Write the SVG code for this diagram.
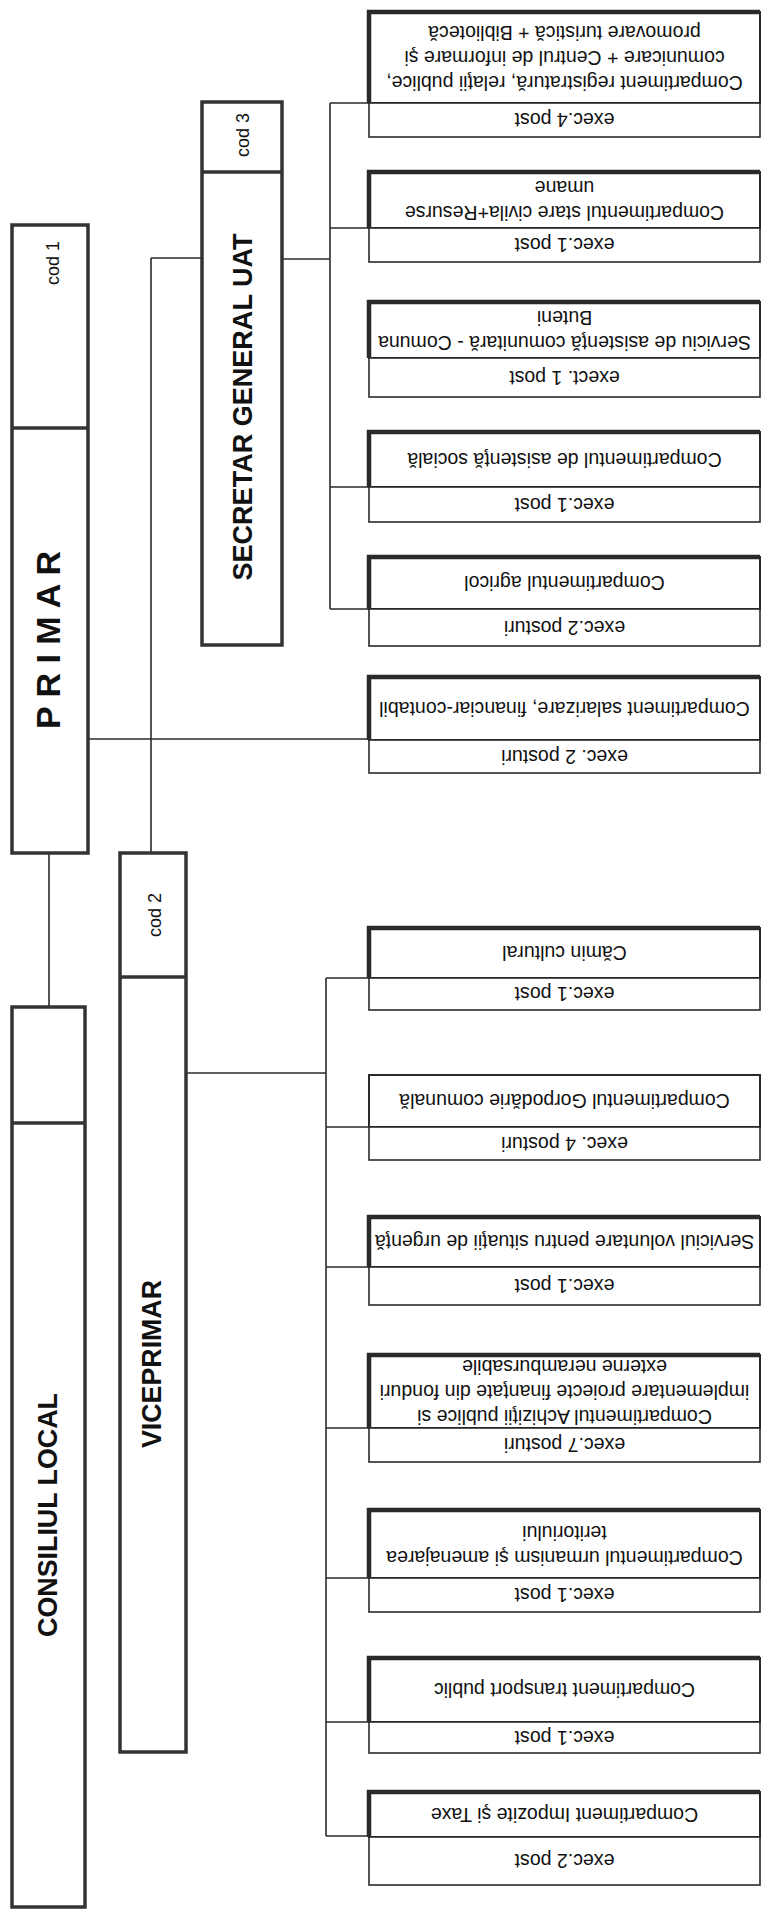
<svg xmlns="http://www.w3.org/2000/svg" width="762" height="1910" viewBox="0 0 762 1910">
<style>
.bg{fill:#ffffff}
.conn line{stroke:#2a2a2a;stroke-width:1.6;fill:none}
.cell{fill:#ffffff;stroke:#2a2a2a;stroke-width:2}
.cellx{fill:#ffffff;stroke:#2a2a2a;stroke-width:1.6}
.edge{fill:none;stroke:#2a2a2a;stroke-width:4.5}
.big{fill:#ffffff;stroke:#333333;stroke-width:3.5}
.div{stroke:#333333;stroke-width:3.5}
.t{font-family:"Liberation Sans",Arial,sans-serif;font-size:19.5px;fill:#111111;text-anchor:middle}
.cod{font-family:"Liberation Sans",Arial,sans-serif;font-size:18px;fill:#111111;text-anchor:middle}
.title{font-family:"Liberation Sans",Arial,sans-serif;font-weight:bold;font-size:27px;fill:#111111;text-anchor:middle}
.primar{font-family:"Liberation Sans",Arial,sans-serif;font-weight:bold;font-size:34px;fill:#111111;text-anchor:middle}
</style>
<rect class="bg" x="0" y="0" width="762" height="1910"/>

<g id="connectors" class="conn">
  <line x1="49" y1="853" x2="49" y2="1007"/>
  <line x1="88" y1="739" x2="369" y2="739"/>
  <line x1="151" y1="258" x2="202" y2="258"/>
  <line x1="151" y1="258" x2="151" y2="853"/>
  <line x1="282" y1="259" x2="330" y2="259"/>
  <line x1="330" y1="103" x2="330" y2="609"/>
  <line x1="330" y1="103" x2="369" y2="103"/>
  <line x1="330" y1="228" x2="369" y2="228"/>
  <line x1="330" y1="487" x2="369" y2="487"/>
  <line x1="330" y1="609" x2="369" y2="609"/>
  <line x1="186" y1="1073" x2="326" y2="1073"/>
  <line x1="326" y1="978" x2="326" y2="1836"/>
  <line x1="326" y1="978" x2="369" y2="978"/>
  <line x1="326" y1="1127" x2="369" y2="1127"/>
  <line x1="326" y1="1267" x2="369" y2="1267"/>
  <line x1="326" y1="1428" x2="369" y2="1428"/>
  <line x1="326" y1="1578" x2="369" y2="1578"/>
  <line x1="326" y1="1722" x2="369" y2="1722"/>
  <line x1="326" y1="1836" x2="369" y2="1836"/>
</g>

<g id="primar">
  <rect class="big" x="12" y="225" width="76" height="628"/>
  <line class="div" x1="12" y1="428" x2="88" y2="428"/>
  <text class="cod" transform="translate(52 263) rotate(-90)" y="6.5">cod 1</text>
  <text class="primar" transform="translate(48 640) rotate(-90)" y="12">P R I M A R</text>
</g>

<g id="consiliul-local">
  <rect class="big" x="12" y="1007" width="73" height="900"/>
  <line class="div" x1="12" y1="1123" x2="85" y2="1123"/>
  <text class="title" transform="translate(47 1515) rotate(-90)" y="9.7" textLength="244" lengthAdjust="spacingAndGlyphs">CONSILIUL LOCAL</text>
</g>

<g id="secretar">
  <rect class="big" x="202" y="102" width="80" height="543"/>
  <line class="div" x1="202" y1="172" x2="282" y2="172"/>
  <text class="cod" transform="translate(242 135) rotate(-90)" y="6.5">cod 3</text>
  <text class="title" transform="translate(242 407) rotate(-90)" y="9.7" textLength="347" lengthAdjust="spacingAndGlyphs">SECRETAR GENERAL UAT</text>
</g>

<g id="viceprimar">
  <rect class="big" x="120" y="853" width="66" height="899"/>
  <line class="div" x1="120" y1="977" x2="186" y2="977"/>
  <text class="cod" transform="translate(154 915) rotate(-90)" y="6.5">cod 2</text>
  <text class="title" transform="translate(151 1364) rotate(-90)" y="9.7" textLength="168" lengthAdjust="spacingAndGlyphs">VICEPRIMAR</text>
</g>

<g id="box1">
  <rect class="cell" x="369" y="12" width="391" height="91"/>
  <polyline class="edge" points="369,103 369,12 760,12"/>
  <rect class="cellx" x="369" y="103" width="391" height="34"/>
  <g transform="rotate(180 564.5 57.5)">
    <text class="t" x="564.5" y="39">Compartiment registratură, relaţii publice,</text>
    <text class="t" x="564.5" y="64">comunicare + Centrul de informare şi</text>
    <text class="t" x="564.5" y="89">promovare turistică + Bibliotecă</text>
  </g>
  <text class="t" transform="rotate(180 564.5 120)" x="564.5" y="127">exec.4 post</text>
</g>

<g id="box2">
  <rect class="cell" x="369" y="172" width="391" height="56"/>
  <polyline class="edge" points="369,228 369,172 760,172"/>
  <rect class="cellx" x="369" y="228" width="391" height="34"/>
  <g transform="rotate(180 564.5 200)">
    <text class="t" x="564.5" y="194">Compartimentul stare civila+Resurse</text>
    <text class="t" x="564.5" y="219">umane</text>
  </g>
  <text class="t" transform="rotate(180 564.5 245)" x="564.5" y="252">exec.1 post</text>
</g>

<g id="box3">
  <rect class="cell" x="369" y="302" width="391" height="56"/>
  <polyline class="edge" points="369,358 369,302 760,302"/>
  <rect class="cellx" x="369" y="358" width="391" height="39"/>
  <g transform="rotate(180 564.5 330)">
    <text class="t" x="564.5" y="324">Serviciu de asistenţă comunitară - Comuna</text>
    <text class="t" x="564.5" y="349">Buteni</text>
  </g>
  <text class="t" transform="rotate(180 564.5 377.5)" x="564.5" y="384.5">exect. 1 post</text>
</g>

<g id="box4">
  <rect class="cell" x="369" y="432" width="391" height="55"/>
  <polyline class="edge" points="369,487 369,432 760,432"/>
  <rect class="cellx" x="369" y="487" width="391" height="35"/>
  <text class="t" transform="rotate(180 564.5 459.5)" x="564.5" y="466.5">Compartimentul de asistenţă socială</text>
  <text class="t" transform="rotate(180 564.5 504.5)" x="564.5" y="511.5">exec.1 post</text>
</g>

<g id="box5">
  <rect class="cell" x="369" y="557" width="391" height="52"/>
  <polyline class="edge" points="369,609 369,557 760,557"/>
  <rect class="cellx" x="369" y="609" width="391" height="37"/>
  <text class="t" transform="rotate(180 564.5 583)" x="564.5" y="590">Compartimentul agricol</text>
  <text class="t" transform="rotate(180 564.5 627.5)" x="564.5" y="634.5">exec.2 posturi</text>
</g>

<g id="box6">
  <rect class="cell" x="369" y="677" width="391" height="63"/>
  <polyline class="edge" points="369,740 369,677 760,677"/>
  <rect class="cellx" x="369" y="740" width="391" height="33"/>
  <text class="t" transform="rotate(180 564.5 708.5)" x="564.5" y="715.5">Compartiment salarizare, financiar-contabil</text>
  <text class="t" transform="rotate(180 564.5 756.5)" x="564.5" y="763.5">exec. 2 posturi</text>
</g>

<g id="box7">
  <rect class="cell" x="369" y="928" width="391" height="50"/>
  <polyline class="edge" points="369,978 369,928 760,928"/>
  <rect class="cellx" x="369" y="978" width="391" height="32"/>
  <text class="t" transform="rotate(180 564.5 953)" x="564.5" y="960">Cămin cultural</text>
  <text class="t" transform="rotate(180 564.5 994)" x="564.5" y="1001">exec.1 post</text>
</g>

<g id="box8">
  <rect class="cell" x="369" y="1075" width="391" height="52"/>
  <rect class="cellx" x="369" y="1127" width="391" height="33"/>
  <text class="t" transform="rotate(180 564.5 1101)" x="564.5" y="1108">Compartimentul Gorpodărie comunală</text>
  <text class="t" transform="rotate(180 564.5 1143.5)" x="564.5" y="1150.5">exec. 4 posturi</text>
</g>

<g id="box9">
  <rect class="cell" x="369" y="1217" width="391" height="50"/>
  <polyline class="edge" points="369,1267 369,1217 760,1217"/>
  <rect class="cellx" x="369" y="1267" width="391" height="38"/>
  <text class="t" transform="rotate(180 564.5 1242)" x="564.5" y="1249">Serviciul voluntare pentru situaţii de urgenţă</text>
  <text class="t" transform="rotate(180 564.5 1286)" x="564.5" y="1293">exec.1 post</text>
</g>

<g id="box10">
  <rect class="cell" x="369" y="1355" width="391" height="73"/>
  <polyline class="edge" points="369,1428 369,1355 760,1355"/>
  <rect class="cellx" x="369" y="1428" width="391" height="34"/>
  <g transform="rotate(180 564.5 1391.5)">
    <text class="t" x="564.5" y="1373">Compartimentul Achiziţii publice si</text>
    <text class="t" x="564.5" y="1398">implementare proiecte finanţate din fonduri</text>
    <text class="t" x="564.5" y="1423">externe nerambursabile</text>
  </g>
  <text class="t" transform="rotate(180 564.5 1445)" x="564.5" y="1452">exec.7 posturi</text>
</g>

<g id="box11">
  <rect class="cell" x="369" y="1510" width="391" height="68"/>
  <polyline class="edge" points="369,1578 369,1510 760,1510"/>
  <rect class="cellx" x="369" y="1578" width="391" height="34"/>
  <g transform="rotate(180 564.5 1545)">
    <text class="t" x="564.5" y="1539">Compartimentul urmanism şi amenajarea</text>
    <text class="t" x="564.5" y="1564">teritoriului</text>
  </g>
  <text class="t" transform="rotate(180 564.5 1595)" x="564.5" y="1602">exec.1 post</text>
</g>

<g id="box12">
  <rect class="cell" x="369" y="1658" width="391" height="64"/>
  <polyline class="edge" points="369,1722 369,1658 760,1658"/>
  <rect class="cellx" x="369" y="1722" width="391" height="31"/>
  <text class="t" transform="rotate(180 564.5 1690)" x="564.5" y="1697">Compartiment transport public</text>
  <text class="t" transform="rotate(180 564.5 1737.5)" x="564.5" y="1744.5">exec.1 post</text>
</g>

<g id="box13">
  <rect class="cell" x="369" y="1792" width="391" height="45"/>
  <polyline class="edge" points="369,1837 369,1792 760,1792"/>
  <rect class="cellx" x="369" y="1837" width="391" height="48"/>
  <text class="t" transform="rotate(180 564.5 1814.5)" x="564.5" y="1821.5">Compartiment Impozite şi Taxe</text>
  <text class="t" transform="rotate(180 564.5 1861)" x="564.5" y="1868">exec.2 post</text>
</g>
</svg>
